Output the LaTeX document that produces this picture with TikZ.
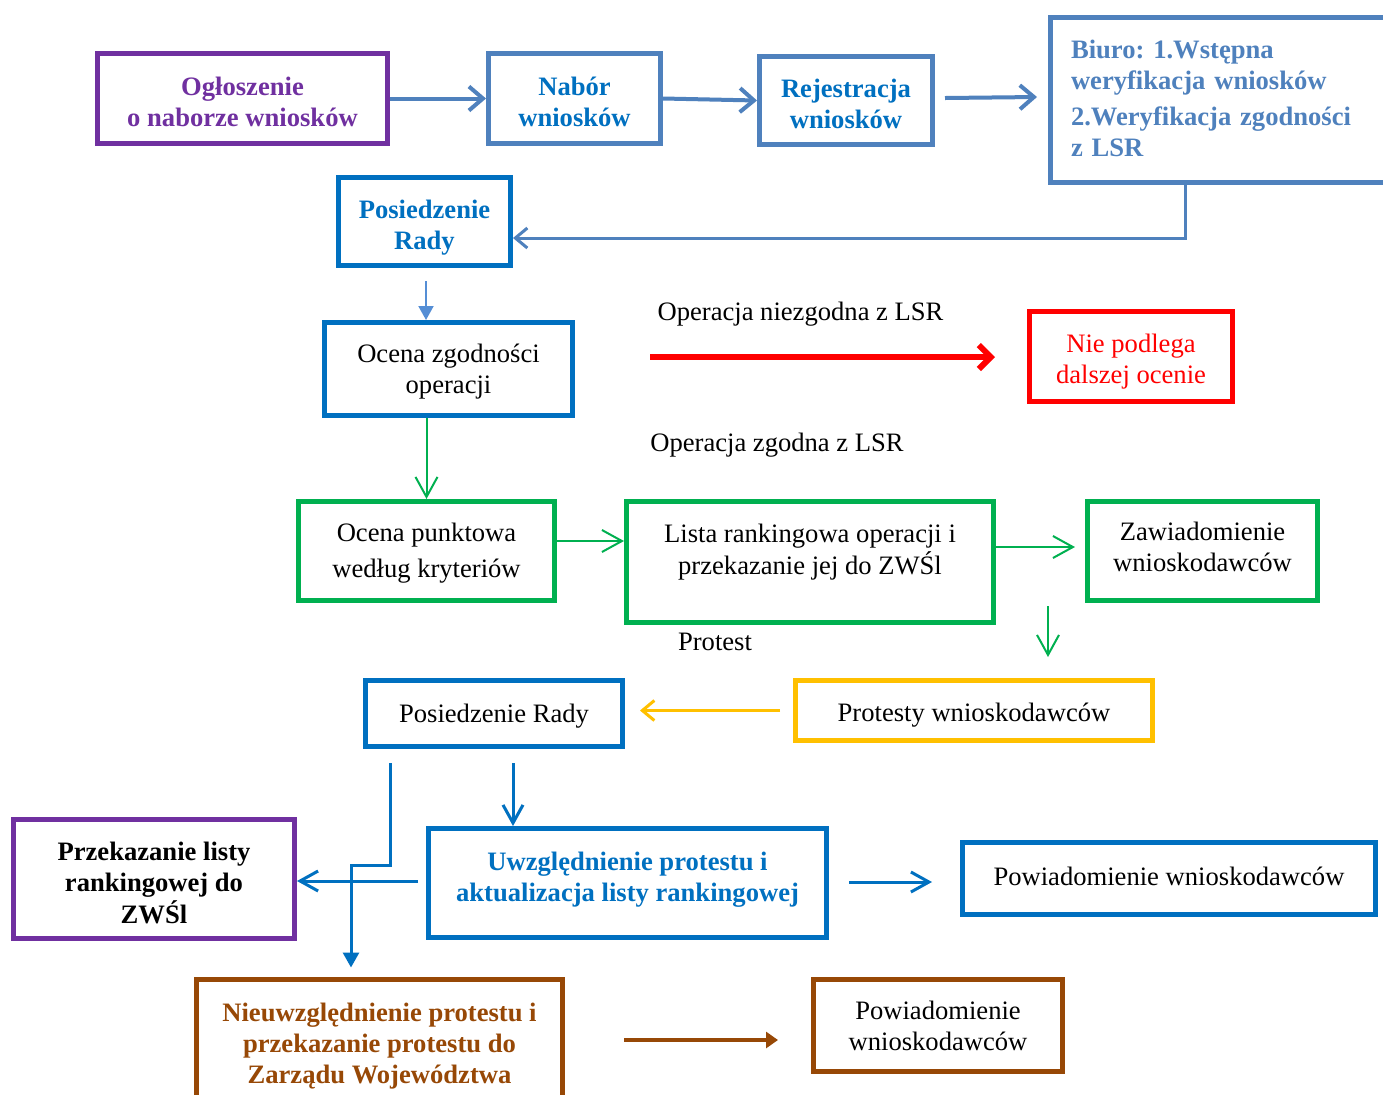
\documentclass[tikz,border=0pt]{standalone}
\usepackage{fontspec}
\setmainfont{Liberation Serif}
\usetikzlibrary{arrows.meta,calc}
\definecolor{cpurple}{HTML}{7030A0}
\definecolor{cblue}{HTML}{0070C0}
\definecolor{cbluetwo}{HTML}{4F81BD}
\definecolor{clight}{HTML}{558ED5}
\definecolor{cgreen}{HTML}{00B050}
\definecolor{cyellow}{HTML}{FFC000}
\definecolor{cbrown}{HTML}{974806}
\definecolor{cred}{HTML}{FF0000}
\newcommand{\diagfont}{\fontsize{13.3pt}{15.5pt}\selectfont\frenchspacing}
\tikzset{
  box/.style={draw, rectangle, line width=2.5pt, inner sep=0pt, align=center, font=\diagfont},
  bf/.style={font=\diagfont\bfseries},
  lbl/.style={font=\diagfont, inner sep=0pt},
  arrA/.style={line width=2pt, draw=cbluetwo, -{Straight Barb[length=7pt,width=12pt]}},
  arrBiuro/.style={line width=1.5pt, draw=cbluetwo, -{Straight Barb[length=6pt,width=10pt]}},
  arrRed/.style={line width=3pt, draw=cred, -{Straight Barb[length=6pt,width=12pt]}},
  arrG/.style={line width=1pt, draw=cgreen, -{Straight Barb[length=10pt,width=11pt]}},
  arrY/.style={line width=1.5pt, draw=cyellow, -{Straight Barb[length=6pt,width=10pt]}},
  arrB/.style={line width=1.5pt, draw=cblue, -{Straight Barb[length=9pt,width=10pt]}},
  triB/.style={line width=1.5pt, draw=cblue, -{Triangle[length=7.5pt,width=8pt]}},
  triL/.style={line width=1pt, draw=clight, -{Triangle[length=7pt,width=7.5pt]}},
  triBr/.style={line width=1.75pt, draw=cbrown, -{Triangle[length=6pt,width=8pt]}}
}
\begin{document}
\begin{tikzpicture}[x=0.5pt,y=-0.5pt]
\fill[white] (0,0) rectangle (1383,1094);
\useasboundingbox (0,0) rectangle (1383,1094);

% boxes
\node[box, bf, draw=cpurple, text=cpurple, minimum width=145pt, minimum height=45pt] (ogl) at (242.5,98.5) {\raisebox{-3pt}[\height][\depth]{\begin{tabular}{@{}c@{}}Ogłoszenie\\o naborze wniosków\end{tabular}}};
\node[box, bf, draw=cbluetwo, text=cblue, minimum width=86pt, minimum height=45pt] (nab) at (574.5,98.5) {\raisebox{-3pt}[\height][\depth]{\begin{tabular}{@{}c@{}}Nabór\\wniosków\end{tabular}}};
\node[box, bf, draw=cbluetwo, text=cblue, minimum width=86.5pt, minimum height=44pt] (rej) at (846,100.5) {\raisebox{-3pt}[\height][\depth]{\begin{tabular}{@{}c@{}}Rejestracja\\wniosków\end{tabular}}};
\node[box, bf, draw=cbluetwo, text=cbluetwo, anchor=west, align=left, minimum height=82.5pt, text width=162pt, inner xsep=10.25pt] (biuro) at (1048,100) {\raisebox{-0.75pt}[\height][\depth]{\begin{tabular}{@{}l@{}}Biuro: 1.Wstępna\\weryfikacja wniosków\\[2.5pt]2.Weryfikacja zgodności\\z LSR\end{tabular}}};
\node[box, bf, draw=cblue, text=cblue, minimum width=86pt, minimum height=44pt] (pos1) at (424.5,221.5) {\raisebox{-3pt}[\height][\depth]{\begin{tabular}{@{}c@{}}Posiedzenie\\Rady\end{tabular}}};
\node[box, draw=cblue, minimum width=124pt, minimum height=46.5pt] (ocz) at (448.5,369) {\raisebox{-1.25pt}[\height][\depth]{\begin{tabular}{@{}c@{}}Ocena zgodności\\operacji\end{tabular}}};
\node[box, draw=cred, text=cred, minimum width=101.5pt, minimum height=45pt] (nie) at (1131,356.5) {\raisebox{-2.75pt}[\height][\depth]{\begin{tabular}{@{}c@{}}Nie podlega\\dalszej ocenie\end{tabular}}};
\node[box, draw=cgreen, minimum width=128pt, minimum height=49.5pt] (opk) at (426.5,551) {\raisebox{-1pt}[\height][\depth]{\begin{tabular}{@{}c@{}}Ocena punktowa\\[2.5pt]według kryteriów\end{tabular}}};
\node[box, draw=cgreen, minimum width=183.5pt, minimum height=60.5pt] (lista) at (810,562) {\raisebox{4.75pt}[\height][\depth]{\begin{tabular}{@{}c@{}}Lista rankingowa operacji i\\przekazanie jej do ZWŚl\end{tabular}}};
\node[box, draw=cgreen, minimum width=115pt, minimum height=49.5pt] (zaw) at (1202.5,551) {\raisebox{0.5pt}[\height][\depth]{\begin{tabular}{@{}c@{}}Zawiadomienie\\wnioskodawców\end{tabular}}};
\node[box, draw=cyellow, minimum width=178.5pt, minimum height=30pt] (prot) at (974,710.5) {\raisebox{-2.5pt}[\height][\depth]{Protesty wnioskodawców}};
\node[box, draw=cblue, minimum width=128.5pt, minimum height=33pt] (pos2) at (494,713.5) {\raisebox{-1.5pt}[\height][\depth]{Posiedzenie Rady}};
\node[box, bf, draw=cpurple, minimum width=140.5pt, minimum height=59.5pt] (przek) at (154,879) {\raisebox{-3.25pt}[\height][\depth]{\begin{tabular}{@{}c@{}}Przekazanie listy\\rankingowej do\\ZWŚl\end{tabular}}};
\node[box, bf, draw=cblue, text=cblue, minimum width=199pt, minimum height=54.5pt] (uwz) at (627.5,883) {\raisebox{1.5pt}[\height][\depth]{\begin{tabular}{@{}c@{}}Uwzględnienie protestu i\\aktualizacja listy rankingowej\end{tabular}}};
\node[box, draw=cblue, minimum width=206.5pt, minimum height=36pt] (pow1) at (1169,878.5) {\raisebox{1pt}[\height][\depth]{Powiadomienie wnioskodawców}};
\node[box, bf, draw=cbrown, text=cbrown, minimum width=183pt, minimum height=67pt] (nieuw) at (379.5,1046) {Nieuwzględnienie protestu i\\przekazanie protestu do\\Zarządu Województwa};
\node[box, draw=cbrown, minimum width=124.5pt, minimum height=46pt] (pow2) at (938,1025.5) {Powiadomienie\\wnioskodawców};

% labels
\node[lbl] (lab1) at (800.5,314) {Operacja niezgodna z LSR};
\node[lbl] (lab2) at (777,445) {Operacja zgodna z LSR};
\node[lbl] (lab3) at (715,642) {Protest};

% connectors
\draw[arrA] (ogl.east) -- (nab.west);
\draw[arrA] (nab.east) -- (rej.west);
\draw[arrA] ($(rej.east)+(5pt,1.25pt)$) -- ($(biuro.west)+(-5.5pt,1.5pt)$);
\draw[arrBiuro] (1185,0 |- biuro.south) |- ($(pos1.east)+(0,-8.25pt)$);

\path ($(pos1.south)+(0.75pt,-6.5pt)$) coordinate (t1);
\draw[triL] (t1) -- (t1 |- ocz.north);

\coordinate (r1) at (650,357);
\draw[arrRed] (r1) -- ($(r1 -| nie.west)+(-16pt,0)$);

\draw[arrG] (opk.north |- ocz.south) -- (opk.north);
\path ($(opk.east)+(0,5pt)$) coordinate (g2);
\draw[arrG] (g2) -- (g2 -| lista.west);
\path ($(lista.east)+(0,7.5pt)$) coordinate (g3);
\draw[arrG] (g3) -- ($(g3 -| zaw.west)+(-5pt,0)$);
\coordinate (g4) at (1048,606);
\draw[arrG] (g4) -- ($(g4 |- prot.north)+(0,10.5pt)$);

\path ($(prot.west)+(-6.5pt,0)$) coordinate (y1);
\draw[arrY] (y1) -- ($(y1 -| pos2.east)+(7.5pt,0)$);

\path ($(pos2.south)+(9.5pt,-7pt)$) coordinate (b1);
\draw[arrB] (b1) -- (b1 |- uwz.north);
\path ($(pos2.south)+(-52pt,-7pt)$) coordinate (b2);
\coordinate (b3) at (351,865);
\draw[triB] (b2) |- (b3) -- ($(b3 |- nieuw.north)+(0,4.5pt)$);

\path ($(uwz.west)+(-4pt,1pt)$) coordinate (b4);
\draw[arrB] (b4) -- (b4 -| przek.east);
\path ($(uwz.east)+(10pt,0.5pt)$) coordinate (b5);
\draw[arrB] (b5) -- ($(b5 -| pow1.west)+(-14pt,0)$);

\path ($(nieuw.east)+(29.5pt,3pt)$) coordinate (c1);
\draw[triBr] (c1) -- ($(c1 -| pow2.west)+(-16.5pt,0)$);
\end{tikzpicture}
\end{document}
